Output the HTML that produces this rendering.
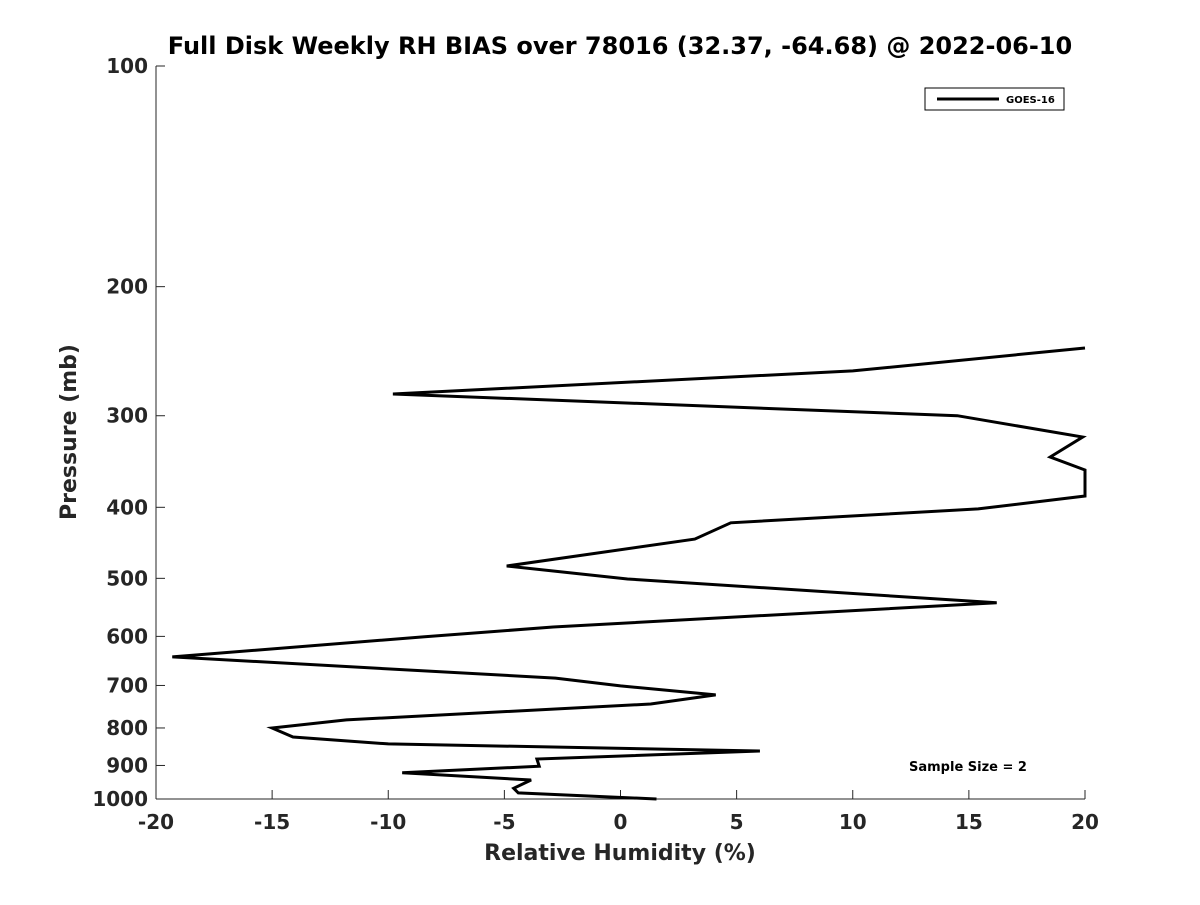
<!DOCTYPE html>
<html><head><meta charset="utf-8"><style>
body{margin:0;background:#fff;}
svg text{font-family:"DejaVu Sans","Liberation Sans",sans-serif;font-weight:bold;fill:#262626;}
</style></head><body>
<svg id="chart" width="1200" height="900" xmlns="http://www.w3.org/2000/svg">
<rect width="1200" height="900" fill="#fff"/>
<text x="620" y="54" text-anchor="middle" font-size="24" style="fill:#000">Full Disk Weekly RH BIAS over 78016 (32.37, -64.68) @ 2022-06-10</text>
<g id="axes"></g>
<path id="series" fill="none" stroke="#000" stroke-width="3" stroke-linejoin="miter"/>
<g>
<rect x="925" y="88" width="139" height="22" fill="#fff" stroke="#000" stroke-width="1"/>
<line x1="937" y1="99" x2="999" y2="99" stroke="#000" stroke-width="3"/>
<text x="1006" y="103" font-size="10" style="fill:#000">GOES-16</text>
</g>
<text x="968" y="771" text-anchor="middle" font-size="13" style="fill:#000">Sample Size = 2</text>
<text x="620" y="860" text-anchor="middle" font-size="22">Relative Humidity (%)</text>
<text transform="translate(76,432) rotate(-90)" text-anchor="middle" font-size="22">Pressure (mb)</text>
</svg>
<script>
const rhValues=[20,10,-9.8,14.5,19.9,18.5,20,20,15.4,4.75,3.2,-4.9,0.3,16.2,-2.9,-8.5,-19.3,-2.8,0,4.1,1.3,-11.8,-15,-14.1,-10,6,-3.6,-3.5,-9.4,-3.85,-4.6,-4.4,1.55];
const pressures=[242.5,260.6,280.2,300,320.7,341.5,355.8,386,402,420,442,481,501,540,582.6,601,640,684,701,721,742,780,800,823,841,860,882,902,921,942,967,981,1000];
const xTicks=[-20,-15,-10,-5,0,5,10,15,20];
const yTicks=[100,200,300,400,500,600,700,800,900,1000];
const L=156,R=1085,T=66,B=799;
const sx=v=>L+(v+20)/40*(R-L);
const sy=p=>T+Math.log10(p/100)*(B-T);
const NS="http://www.w3.org/2000/svg";
const ax=document.getElementById('axes');
function mk(tag,attrs,txt){const e=document.createElementNS(NS,tag);for(const k in attrs)e.setAttribute(k,attrs[k]);if(txt!==undefined)e.textContent=txt;ax.appendChild(e);return e;}
let e=mk('line',{x1:L,y1:T,x2:L,y2:B,stroke:'#262626','stroke-width':1});


e=mk('line',{x1:L,y1:B,x2:R,y2:B,stroke:'#262626','stroke-width':1});


xTicks.forEach(v=>{
  const x=sx(v);
  mk('line',{x1:x,y1:B,x2:x,y2:B-9,stroke:'#262626'});
  const t=mk('text',{x:x,y:B+30,'text-anchor':'middle','font-size':20},String(v));
  
  
});
yTicks.forEach(p=>{
  const y=sy(p);
  mk('line',{x1:L,y1:y,x2:L+9,y2:y,stroke:'#262626'});
  const t=mk('text',{x:L-8,y:y+7,'text-anchor':'end','font-size':20},String(p));
  
  
});
document.getElementById('series').setAttribute('d',rhValues.map((v,i)=>(i?'L':'M')+sx(v).toFixed(1)+','+sy(pressures[i]).toFixed(1)).join(' '));
</script>
</body></html>
